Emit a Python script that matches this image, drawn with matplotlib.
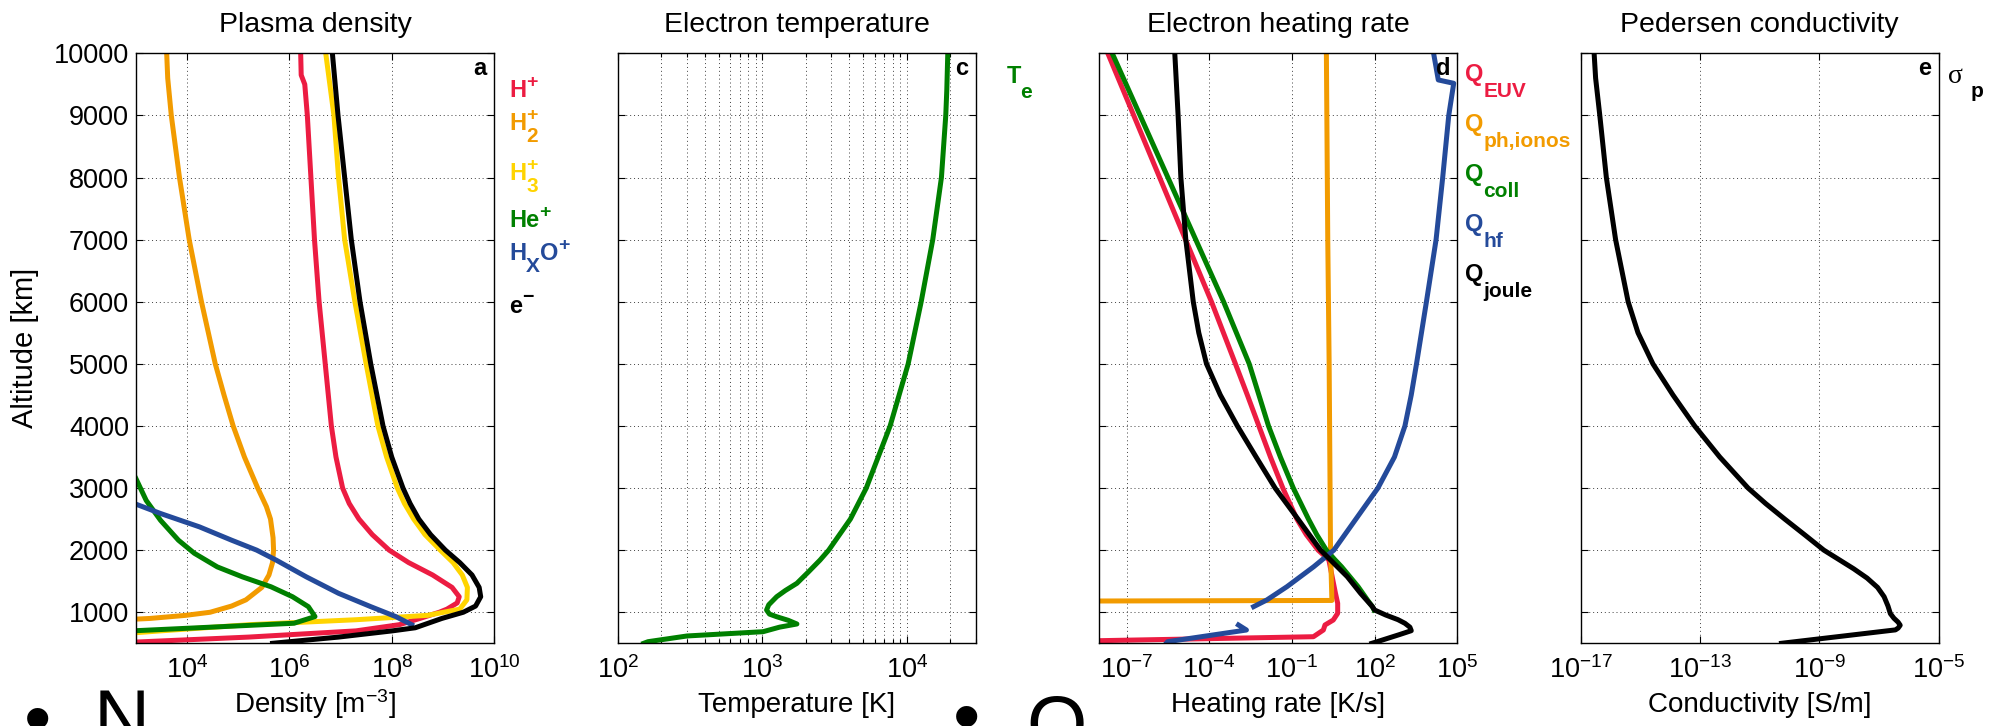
import matplotlib
matplotlib.use("Agg")
import matplotlib.pyplot as plt
import numpy as np
from matplotlib.ticker import LogLocator, NullLocator, NullFormatter

plt.rcParams['font.family'] = ['Liberation Sans', 'DejaVu Sans']
plt.rcParams['mathtext.fontset'] = 'custom'
plt.rcParams['mathtext.rm'] = 'Liberation Sans'
plt.rcParams['mathtext.it'] = 'Liberation Sans:italic'
plt.rcParams['mathtext.bf'] = 'Liberation Sans:bold'

# values are log10 of the quantity; altitudes in km

# a: plasma density [m^-3]
alt_hp = [10000, 9650, 9500, 9000, 8000, 7000, 6000, 5000, 4000, 3500, 3000, 2750, 2500, 2250,
          2000, 1800, 1600, 1400, 1250, 1150, 1050, 1000, 900, 800, 700, 600, 520, 500]
n_hp = [6.22, 6.23, 6.30, 6.35, 6.42, 6.49, 6.58, 6.70, 6.82, 6.91, 7.04, 7.17, 7.36, 7.62,
        7.95, 8.33, 8.80, 9.18, 9.32, 9.28, 9.08, 8.93, 8.55, 8.15, 7.30, 5.20, 3.00, 2.50]
alt_h2 = [10000, 9600, 9000, 8000, 7000, 6000, 5000, 4500, 4000, 3500, 3000, 2700, 2500, 2200,
          2000, 1800, 1600, 1400, 1200, 1100, 1000, 950, 900, 870]
n_h2 = [3.60, 3.62, 3.69, 3.85, 4.04, 4.28, 4.55, 4.72, 4.90, 5.12, 5.38, 5.55, 5.63, 5.68,
        5.69, 5.67, 5.60, 5.46, 5.15, 4.87, 4.45, 3.97, 3.27, 2.50]
alt_h3 = [10000, 9000, 8000, 7000, 6000, 5000, 4000, 3500, 3000, 2750, 2500, 2250, 2000, 1800,
          1600, 1400, 1200, 1050, 950, 880, 800, 700, 640]
n_h3 = [6.71, 6.87, 6.96, 7.08, 7.28, 7.50, 7.73, 7.90, 8.11, 8.25, 8.43, 8.65, 8.95, 9.20,
        9.38, 9.48, 9.47, 9.33, 8.70, 7.31, 5.22, 3.48, 2.50]
alt_he = [3150, 2800, 2480, 2160, 1950, 1730, 1570, 1410, 1250, 1090, 930, 823, 703, 690]
n_he = [3.00, 3.20, 3.48, 3.83, 4.14, 4.59, 5.08, 5.64, 6.06, 6.37, 6.50, 6.09, 3.00, 2.50]
alt_hxo = [2800, 2740, 2590, 2375, 2160, 2000, 1840, 1570, 1305, 1090, 930, 800]
n_hxo = [2.80, 3.00, 3.48, 4.24, 4.87, 5.36, 5.74, 6.33, 6.96, 7.59, 8.08, 8.39]
alt_e = [10000, 9000, 8000, 7000, 6000, 5000, 4000, 3500, 3000, 2750, 2500, 2250, 2000, 1800,
         1600, 1400, 1250, 1100, 1000, 900, 750, 700, 600, 500]
n_e = [6.84, 6.95, 7.08, 7.21, 7.38, 7.59, 7.83, 8.00, 8.22, 8.36, 8.53, 8.76, 9.05, 9.33,
       9.57, 9.71, 9.74, 9.64, 9.40, 8.98, 8.46, 8.01, 6.96, 5.67]

# c: electron temperature [K]
alt_te = [10000, 9400, 9000, 8000, 7000, 6000, 5000, 4000, 3000, 2500, 2000, 1840, 1650, 1466,
          1350, 1250, 1120, 1036, 970, 928, 870, 811, 760, 687, 618, 526, 500]
te = [4.284, 4.277, 4.27, 4.24, 4.18, 4.10, 4.01, 3.885, 3.72, 3.61, 3.46, 3.40, 3.32, 3.24,
      3.16, 3.10, 3.045, 3.03, 3.05, 3.10, 3.18, 3.24, 3.12, 3.006, 2.48, 2.21, 2.18]

# d: electron heating rates [K/s]
alt_euv = [10000, 9000, 8000, 7000, 6000, 5000, 4500, 4000, 3500, 3000, 2500, 2250, 2000, 1900,
           1841, 1572, 1305, 1144, 983, 875, 795, 714, 606, 542, 530]
q_euv = [-7.68, -6.74, -5.80, -4.86, -3.92, -3.05, -2.62, -2.20, -1.78, -1.33, -0.82, -0.48,
         -0.05, 0.20, 0.34, 0.46, 0.58, 0.66, 0.66, 0.50, 0.20, 0.14, -0.22, -8.0, -9.0]
alt_ph = [10000, 7000, 5000, 2000, 1190, 1180]
q_ph = [0.25, 0.30, 0.35, 0.40, 0.45, -9.0]
alt_coll = [10000, 9000, 8000, 7000, 6000, 5000, 4500, 4000, 3500, 3000, 2500, 2250, 2000, 1850,
            1733, 1600, 1412, 1198, 1090, 1036]
q_coll = [-7.52, -6.51, -5.50, -4.49, -3.48, -2.55, -2.20, -1.85, -1.42, -0.95, -0.40, -0.10,
          0.25, 0.55, 0.80, 1.05, 1.40, 1.74, 1.92, 1.98]
alt_hf = [10000, 9571, 9517, 9000, 8000, 7000, 6000, 5000, 4500, 4000, 3500, 3000, 2500, 2000,
          1733, 1412, 1198, 1090]
q_hf = [4.14, 4.31, 4.87, 4.69, 4.47, 4.23, 3.88, 3.52, 3.33, 3.10, 2.72, 2.12, 1.32, 0.52,
        -0.21, -1.18, -1.91, -2.39]
alt_hf_low = [500, 526, 618, 714, 795]
q_hf_low = [-5.56, -5.51, -4.11, -2.65, -2.94]
alt_joule = [10000, 9000, 8000, 7000, 6000, 5500, 5000, 4500, 4000, 3500, 3000, 2500, 2000, 1841,
             1572, 1305, 1090, 1036, 956, 880, 822, 760, 703, 640, 527, 500]
q_joule = [-5.25, -5.13, -5.03, -4.85, -4.58, -4.38, -4.10, -3.60, -2.98, -2.30, -1.61, -0.78,
           0.04, 0.40, 1.01, 1.49, 1.92, 2.00, 2.40, 2.85, 3.10, 3.28, 3.33, 2.90, 2.10, 1.90]

# e: Pedersen conductivity [S/m]
alt_sig = [10000, 9600, 9000, 8000, 7000, 6000, 5500, 5000, 4500, 4000, 3500, 3000, 2750, 2500,
           2250, 2000, 1850, 1700, 1550, 1400, 1250, 1100, 978, 903, 840, 791, 745, 716, 500]
sig = [-16.55, -16.50, -16.36, -16.14, -15.83, -15.41, -15.08, -14.58, -13.91, -13.18, -12.34,
       -11.39, -10.80, -10.16, -9.50, -8.85, -8.35, -7.85, -7.40, -7.05, -6.83, -6.70, -6.62,
       -6.50, -6.36, -6.29, -6.36, -6.45, -10.27]

RED = '#EC1C42'
ORANGE = '#F29B00'
YELLOW = '#FFD400'
GREEN = '#008000'
BLUE = '#244A9A'
LW = 3.6

W, H = 1993, 726
fig = plt.figure(figsize=(W / 100, H / 100), dpi=100)


def make_axes(left, right, top=53.3, bottom=643.3):
    return fig.add_axes([left / W, 1 - bottom / H, (right - left) / W, (bottom - top) / H])


grid_kw = dict(linestyle=(0, (1, 3)), color='0.25', linewidth=0.7)


def setup(ax, xlim, major, title, xlabel, letter, minor=False):
    ax.set_xscale('log')
    ax.set_xlim(*xlim)
    ax.set_ylim(500, 10000)
    ax.set_xticks(major)
    if minor:
        ax.xaxis.set_minor_locator(LogLocator(base=10, subs=np.arange(2, 10)))
        ax.grid(True, which='minor', axis='x', **grid_kw)
    else:
        ax.xaxis.set_minor_locator(NullLocator())
    ax.xaxis.set_minor_formatter(NullFormatter())
    ax.set_yticks(range(1000, 10001, 1000))
    ax.tick_params(which='both', direction='in', top=True, right=True, labelsize=19.5, width=0.8)
    ax.tick_params(which='major', length=5)
    ax.tick_params(which='minor', length=3)
    ax.tick_params(axis='x', pad=9)
    ax.tick_params(axis='y', pad=5)
    ax.grid(True, which='major', **grid_kw)
    for s in ax.spines.values():
        s.set_linewidth(1.0)
    ax.set_title(title, fontsize=20.5, pad=15)
    ax.set_xlabel(xlabel, fontsize=20)
    ax.xaxis.set_label_coords(0.5, -0.082)
    ax.text(0.98, 0.993, letter, transform=ax.transAxes, ha='right', va='top',
            fontsize=17, fontweight='bold')


def curve(ax, alt, logv, color):
    ax.plot(10.0 ** np.array(logv), alt, color=color, lw=LW)


# panel a
ax_a = make_axes(136, 494)
for a, v, c in [(alt_hp, n_hp, RED), (alt_h2, n_h2, ORANGE), (alt_h3, n_h3, YELLOW),
                (alt_he, n_he, GREEN), (alt_hxo, n_hxo, BLUE), (alt_e, n_e, 'k')]:
    curve(ax_a, a, v, c)
setup(ax_a, (1e3, 1e10), [1e4, 1e6, 1e8, 1e10], 'Plasma density', r'Density [m$^{-3}$]', 'a')
ax_a.xaxis.set_label_coords(0.5, -0.075)
ax_a.set_ylabel('Altitude [km]', fontsize=21)
ax_a.yaxis.set_label_coords(-0.271, 0.5)

# panel c
ax_c = make_axes(617.7, 975.7)
curve(ax_c, alt_te, te, GREEN)
setup(ax_c, (1e2, 3e4), [1e2, 1e3, 1e4], 'Electron temperature', 'Temperature [K]', 'c', minor=True)
ax_c.tick_params(labelleft=False)

# panel d
ax_d = make_axes(1099, 1457.3)
for a, v, c in [(alt_euv, q_euv, RED), (alt_ph, q_ph, ORANGE), (alt_coll, q_coll, GREEN),
                (alt_hf, q_hf, BLUE), (alt_hf_low, q_hf_low, BLUE), (alt_joule, q_joule, 'k')]:
    curve(ax_d, a, v, c)
setup(ax_d, (1e-8, 1e5), [1e-7, 1e-4, 1e-1, 1e2, 1e5], 'Electron heating rate',
      'Heating rate [K/s]', 'd')
ax_d.tick_params(labelleft=False)

# panel e
ax_e = make_axes(1580.7, 1938.7)
curve(ax_e, alt_sig, sig, 'k')
setup(ax_e, (1e-17, 1e-5), [1e-17, 1e-13, 1e-9, 1e-5], 'Pedersen conductivity',
      'Conductivity [S/m]', 'e')
ax_e.tick_params(labelleft=False)


# coloured labels to the right of each panel
def ftext(x, y, s, size=17, color='k', **kw):
    kw.setdefault('fontweight', 'bold')
    return fig.text(x / W, 1 - y / H, s, fontsize=size, color=color,
                    va='baseline', ha='left', **kw)


def attach(prev, s, dy, size, color, dx=0):
    return ax_a.annotate(s, xy=(1, 0), xycoords=prev, xytext=(dx, dy), textcoords='offset points',
                         fontsize=size, color=color, fontweight='bold', va='bottom', ha='left',
                         annotation_clip=False)


t = ftext(509, 97, 'H', color=RED)
attach(t, '+', 8, 14, RED)
t = ftext(509, 130, 'H', color=ORANGE)
attach(t, '2', -8, 15, ORANGE)
attach(t, '+', 8, 14, ORANGE)
t = ftext(509, 180, 'H', color=YELLOW)
attach(t, '3', -8, 15, YELLOW)
attach(t, '+', 8, 14, YELLOW)
t = ftext(509, 227, 'He', color=GREEN)
attach(t, '+', 8, 14, GREEN)
t = ftext(509, 260, 'H', color=BLUE)
t = attach(t, 'X', -8, 15, BLUE)
t = attach(t, 'O', 8, 17, BLUE)
attach(t, '+', 8, 14, BLUE)
t = ftext(509, 313, 'e')
attach(t, '\u2212', 9, 14, 'k')

t = ftext(1007, 83, 'T', color=GREEN)
attach(t, 'e', -10, 15, GREEN, dx=-1)

for y, sub, c in [(81, 'EUV', RED), (131, 'ph,ionos', ORANGE), (181, 'coll', GREEN),
                  (231, 'hf', BLUE), (281, 'joule', 'k')]:
    t = ftext(1465, y, 'Q', color=c)
    attach(t, sub, -11, 15, c)

ftext(1948, 83, '\u03c3', size=20, fontweight='normal', family='Liberation Serif')
ftext(1971, 97, 'p', size=15)

# slide bullets cut off at the bottom
ftext(24, 744, '\u2022', size=56, fontweight='normal')
ftext(94, 744, 'N', size=56, fontweight='normal')
ftext(953, 742, '\u2022', size=56, fontweight='normal')
ftext(1026, 750, 'O', size=56, fontweight='normal')

fig.savefig('out.png', dpi=100)
